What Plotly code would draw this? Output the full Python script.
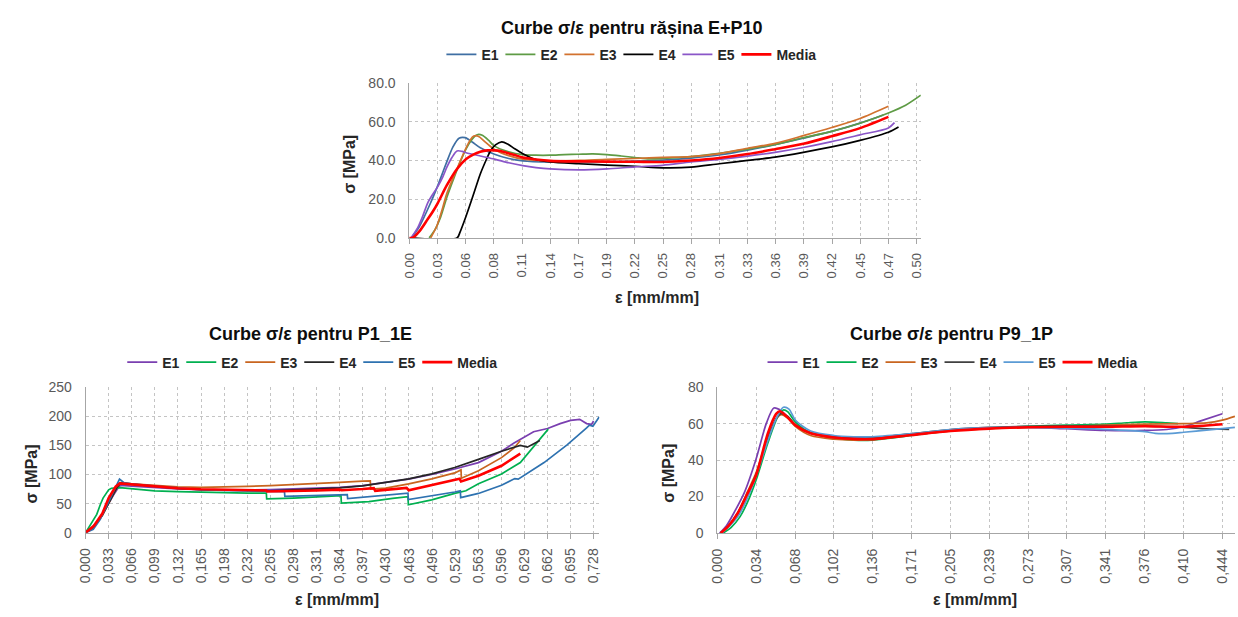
import plotly.graph_objects as go

# ---------------- data: top chart (E+P10) ----------------
top_names = ["E1", "E2", "E3", "E4", "E5", "Media"]
top_e1_x = [0.002, 0.010, 0.020, 0.028, 0.036, 0.043, 0.049, 0.055, 0.062, 0.070, 0.084, 0.098, 0.112, 0.139, 0.167, 0.195, 0.223, 0.250, 0.278, 0.306, 0.334, 0.361, 0.389, 0.417, 0.445, 0.468]
top_e1_y = [0, 6, 17, 27, 38, 47, 51.5, 51.8, 49.5, 46.5, 43.2, 41, 39.8, 39.2, 39.2, 39.3, 39.6, 40.2, 41.2, 42.8, 45.3, 48.2, 51.5, 55, 59.3, 63.5]
top_e2_x = [0.0195, 0.025, 0.031, 0.037, 0.044, 0.050, 0.056, 0.062, 0.067, 0.072, 0.078, 0.084, 0.098, 0.112, 0.125, 0.139, 0.153, 0.167, 0.181, 0.195, 0.209, 0.223, 0.237, 0.250, 0.278, 0.306, 0.334, 0.361, 0.389, 0.417, 0.445, 0.473, 0.490, 0.505]
top_e2_y = [0, 4, 11, 21, 31, 39, 46, 51, 53.3, 53, 50.5, 47.4, 44.5, 43, 42.7, 42.7, 43, 43.2, 43.4, 43, 42.3, 41.5, 40.8, 41.0, 42.0, 43.7, 45.8, 48.3, 51.7, 55, 59.2, 64.5, 68.5, 73.7]
top_e3_x = [0.021, 0.027, 0.032, 0.037, 0.044, 0.0505, 0.056, 0.060, 0.0635, 0.068, 0.075, 0.084, 0.098, 0.112, 0.139, 0.167, 0.195, 0.223, 0.250, 0.278, 0.306, 0.334, 0.361, 0.389, 0.417, 0.445, 0.473]
top_e3_y = [0, 6, 14, 23, 32, 40, 46.5, 50.5, 52.6, 52.5, 49.5, 45.7, 42.5, 40.7, 39.8, 40, 40.6, 41, 41.6, 42, 43.5, 46.3, 48.8, 52.8, 57, 61.7, 68]
top_e4_x = [0.0, 0.047, 0.050, 0.056, 0.063, 0.070, 0.076, 0.080, 0.085, 0.0912, 0.097, 0.104, 0.112, 0.125, 0.139, 0.167, 0.195, 0.223, 0.250, 0.278, 0.306, 0.334, 0.361, 0.389, 0.417, 0.445, 0.473, 0.483]
top_e4_y = [0, 0, 3, 11.3, 22, 33, 40.5, 44.9, 48, 49.6, 48.5, 46, 43.5, 40.5, 39.2, 38.3, 37.6, 37, 36.2, 36.5, 38.3, 40, 41.7, 44.2, 47, 50.4, 54.6, 57.3]
top_e5_x = [0.0016, 0.008, 0.013, 0.018, 0.023, 0.028, 0.033, 0.037, 0.042, 0.047, 0.052, 0.056, 0.070, 0.084, 0.098, 0.112, 0.125, 0.139, 0.167, 0.195, 0.223, 0.250, 0.278, 0.306, 0.334, 0.361, 0.389, 0.417, 0.445, 0.473, 0.479]
top_e5_y = [0, 5, 11, 18, 22.5, 26.5, 31.5, 36.5, 41.5, 44.9, 44.7, 44, 42.3, 40.7, 38.8, 37.3, 36.3, 35.6, 35.1, 35.6, 36.7, 37.5, 39.2, 40.5, 42.2, 44.2, 46.7, 49.7, 53.2, 56.8, 59.5]
top_med_x = [0.0, 0.003, 0.010, 0.018, 0.023, 0.028, 0.037, 0.047, 0.056, 0.063, 0.070, 0.077, 0.084, 0.090, 0.096, 0.104, 0.112, 0.125, 0.139, 0.167, 0.195, 0.223, 0.250, 0.278, 0.306, 0.334, 0.361, 0.389, 0.417, 0.445, 0.473]
top_med_y = [0, 0, 3.5, 9.6, 13.5, 18, 27.2, 35.6, 40.7, 43, 44.5, 45.2, 45.2, 44.9, 44, 42.8, 41.5, 40.5, 39.8, 39.5, 39.4, 39.3, 39.2, 40, 41.3, 43.3, 45.8, 48.6, 52.5, 56.7, 62.5]
top_xticks = ["0.00", "0.03", "0.06", "0.08", "0.11", "0.14", "0.17", "0.19", "0.22", "0.25", "0.28", "0.31", "0.33", "0.36", "0.39", "0.42", "0.45", "0.47", "0.50"]
top_yticks = ["0.0", "20.0", "40.0", "60.0", "80.0"]

# ---------------- data: bottom-left chart (P1_1E) ----------------
p1_names = ["E1", "E2", "E3", "E4", "E5", "Media"]
p1_e1_x = [0, 0.010, 0.021, 0.030, 0.040, 0.046, 0.050, 0.066, 0.099, 0.132, 0.165, 0.198, 0.232, 0.265, 0.298, 0.331, 0.364, 0.397, 0.430, 0.463, 0.496, 0.529, 0.563, 0.596, 0.614, 0.642, 0.662, 0.680, 0.695, 0.708, 0.718, 0.725, 0.728]
p1_e1_y = [0, 10, 25.7, 45, 64.7, 76, 81.5, 80, 77.5, 75.5, 74, 73.5, 73.5, 74, 75.5, 76.5, 78, 81, 86, 92, 100, 109.4, 120.5, 140, 154, 173.5, 179, 187.5, 193, 194.8, 187.5, 186, 192]
p1_e2_x = [0, 0.008, 0.016, 0.021, 0.025, 0.033, 0.037, 0.049, 0.066, 0.099, 0.132, 0.158, 0.198, 0.232, 0.259, 0.2595, 0.298, 0.331, 0.366, 0.3665, 0.406, 0.440, 0.462, 0.4625, 0.480, 0.496, 0.529, 0.545, 0.563, 0.596, 0.623, 0.642, 0.663]
p1_e2_y = [0, 15, 31.5, 48, 59.5, 73.6, 76.4, 77.5, 75.5, 72, 70.5, 69.7, 68.5, 68, 68, 58, 59.5, 61, 63.5, 51, 53.6, 59, 62, 48, 53, 56.5, 67.5, 72, 84.3, 101, 120.5, 148.4, 178]
p1_e3_x = [0, 0.012, 0.024, 0.035, 0.045, 0.050, 0.066, 0.099, 0.132, 0.165, 0.198, 0.232, 0.265, 0.298, 0.331, 0.364, 0.397, 0.408, 0.4085, 0.430, 0.463, 0.496, 0.529, 0.538, 0.5385, 0.563, 0.596, 0.614, 0.623]
p1_e3_y = [0, 10, 30, 55, 78, 86, 84, 81.5, 79, 78, 78.5, 79.5, 81, 82.5, 84.5, 86.5, 88.5, 89, 75, 76.5, 84, 92.6, 102.7, 108, 93.7, 106.6, 129, 145.6, 158.5]
p1_e4_x = [0, 0.012, 0.024, 0.035, 0.045, 0.050, 0.066, 0.099, 0.132, 0.165, 0.198, 0.232, 0.265, 0.298, 0.331, 0.364, 0.397, 0.430, 0.463, 0.496, 0.529, 0.563, 0.596, 0.623, 0.633, 0.651]
p1_e4_y = [0, 10, 30, 56, 78, 85, 83, 79, 76, 74, 73, 72, 72, 73.5, 75, 77, 80.4, 86, 92.6, 101, 112, 126, 140, 150, 147, 158.5]
p1_e5_x = [0, 0.011, 0.021, 0.033, 0.043, 0.0486, 0.055, 0.066, 0.099, 0.132, 0.165, 0.198, 0.232, 0.265, 0.285, 0.2855, 0.331, 0.375, 0.3755, 0.410, 0.440, 0.462, 0.4625, 0.496, 0.529, 0.537, 0.5375, 0.563, 0.596, 0.615, 0.620, 0.657, 0.690, 0.718, 0.722, 0.727, 0.736]
p1_e5_y = [0, 6, 23, 54, 79, 92, 86, 84, 80, 76.5, 74, 72.5, 71.5, 71, 70.5, 62.4, 64, 65.5, 58.5, 62, 66, 68, 57, 63, 70, 72, 60.3, 67.5, 81.5, 93, 92, 120.5, 151, 180, 184.7, 183, 198.7]
p1_med_x = [0, 0.012, 0.024, 0.033, 0.043, 0.049, 0.066, 0.099, 0.132, 0.165, 0.198, 0.232, 0.259, 0.260, 0.298, 0.331, 0.364, 0.367, 0.397, 0.413, 0.415, 0.440, 0.460, 0.463, 0.496, 0.529, 0.536, 0.538, 0.563, 0.596, 0.623]
p1_med_y = [0, 12, 33, 59.5, 79, 84.8, 83, 79.5, 76.5, 74.7, 73.5, 73, 72.5, 70.8, 71.5, 72.5, 74, 73, 75, 76.5, 72, 75, 77, 73, 81.5, 90, 92.6, 88, 98, 115, 136]
p1_xticks = ["0,000", "0,033", "0,066", "0,099", "0,132", "0,165", "0,198", "0,232", "0,265", "0,298", "0,331", "0,364", "0,397", "0,430", "0,463", "0,496", "0,529", "0,563", "0,596", "0,629", "0,662", "0,695", "0,728"]
p1_yticks = ["0", "50", "100", "150", "200", "250"]

# ---------------- data: bottom-right chart (P9_1P) ----------------
p9_names = ["E1", "E2", "E3", "E4", "E5", "Media"]
p9_e1_x = [0.002, 0.008, 0.0154, 0.024, 0.034, 0.043, 0.0497, 0.056, 0.0685, 0.082, 0.1025, 0.120, 0.136, 0.171, 0.205, 0.239, 0.273, 0.307, 0.341, 0.376, 0.395, 0.410, 0.425, 0.444]
p9_e1_y = [0, 4, 12, 22.6, 40.5, 60, 68.6, 67.2, 59.2, 54.7, 53, 52.5, 52.2, 53.8, 56.2, 57.5, 58, 57.2, 56.3, 56.3, 56.8, 58.3, 61.5, 65.4]
p9_e2_x = [0.005, 0.012, 0.020, 0.028, 0.034, 0.0444, 0.053, 0.058, 0.062, 0.0685, 0.082, 0.1025, 0.120, 0.136, 0.171, 0.205, 0.239, 0.273, 0.307, 0.341, 0.360, 0.376, 0.395, 0.405]
p9_e2_y = [0, 3, 9, 19, 28.9, 49.4, 63.6, 67.5, 66.5, 61, 55, 52, 51, 51, 53.5, 56.3, 57.5, 58.5, 59.2, 59.7, 60.5, 61, 60.4, 60]
p9_e3_x = [0.003, 0.010, 0.018, 0.026, 0.034, 0.044, 0.052, 0.056, 0.062, 0.0685, 0.082, 0.1025, 0.120, 0.136, 0.171, 0.190, 0.205, 0.239, 0.273, 0.307, 0.341, 0.376, 0.410, 0.430, 0.444, 0.455]
p9_e3_y = [0, 4, 11, 22, 33, 52, 63, 65, 63, 58.5, 53.5, 51.5, 51, 51.2, 53.8, 55, 56, 57.2, 58, 58.5, 59.2, 59.7, 60, 60.4, 61.9, 64]
p9_e4_x = [0.003, 0.010, 0.018, 0.026, 0.034, 0.044, 0.052, 0.056, 0.062, 0.0685, 0.082, 0.1025, 0.120, 0.136, 0.171, 0.205, 0.239, 0.273, 0.307, 0.341, 0.376, 0.410, 0.430, 0.450]
p9_e4_y = [0, 4, 11, 21, 32, 51, 63, 65.5, 64, 59.5, 54.8, 52.6, 52, 52.2, 54.5, 56.8, 58, 58.5, 58.8, 58.6, 58.6, 58, 57.2, 56.9]
p9_e5_x = [0.004, 0.011, 0.019, 0.027, 0.034, 0.044, 0.052, 0.058, 0.063, 0.0685, 0.082, 0.1025, 0.120, 0.136, 0.171, 0.205, 0.239, 0.273, 0.307, 0.341, 0.376, 0.385, 0.400, 0.410, 0.430, 0.455]
p9_e5_y = [0, 4, 10, 20, 31, 50, 63, 69, 68, 62, 56, 53.5, 52.8, 52.8, 54.5, 56.8, 57.8, 58, 57.5, 56.9, 55.6, 54.7, 54.7, 55.3, 56.5, 58]
p9_med_x = [0.003, 0.010, 0.018, 0.026, 0.034, 0.0444, 0.0517, 0.055, 0.060, 0.0685, 0.082, 0.1025, 0.123, 0.136, 0.171, 0.205, 0.239, 0.273, 0.307, 0.341, 0.376, 0.410, 0.444]
p9_med_y = [0, 4, 11, 21, 31.5, 54.7, 65.4, 66.8, 64.5, 59.2, 54.7, 52.4, 51.5, 51.5, 53.8, 56, 57.3, 58, 58.3, 58.3, 58.6, 58.3, 59.7]
p9_xticks = ["0,000", "0,034", "0,068", "0,102", "0,136", "0,171", "0,205", "0,239", "0,273", "0,307", "0,341", "0,376", "0,410", "0,444"]
p9_yticks = ["0", "20", "40", "60", "80"]

# ---------------- styling ----------------
FONT = "Liberation Sans, Arial, sans-serif"
W, H = 1238, 617
top_colors = ["#3F6FA3", "#5E9B45", "#D2722F", "#000000", "#8A56C8", "#FF0000"]
p1_colors = ["#7A3FB0", "#00B050", "#C8651F", "#262626", "#2E72B0", "#FF0000"]
p9_colors = ["#7A3FB0", "#00B050", "#C8651F", "#404040", "#5B9BD5", "#FF0000"]

fig = go.Figure()

def add_set(xs, ys, names, colors, xa, ya, leg, shape):
    for x, y, n, c in zip(xs, ys, names, colors):
        is_med = (n == "Media")
        fig.add_trace(go.Scatter(
            x=x, y=y, name=n, mode="lines",
            line=dict(color=c, width=2.6 if is_med else 1.7, shape=shape,
                      smoothing=0.8 if shape == "spline" else None),
            xaxis=xa, yaxis=ya, legend=leg, showlegend=True,
            legendwidth=42 if is_med else 14))

add_set([top_e1_x, top_e2_x, top_e3_x, top_e4_x, top_e5_x, top_med_x],
        [top_e1_y, top_e2_y, top_e3_y, top_e4_y, top_e5_y, top_med_y],
        top_names, top_colors, "x", "y", "legend", "spline")
add_set([p1_e1_x, p1_e2_x, p1_e3_x, p1_e4_x, p1_e5_x, p1_med_x],
        [p1_e1_y, p1_e2_y, p1_e3_y, p1_e4_y, p1_e5_y, p1_med_y],
        p1_names, p1_colors, "x2", "y2", "legend2", "linear")
add_set([p9_e1_x, p9_e2_x, p9_e3_x, p9_e4_x, p9_e5_x, p9_med_x],
        [p9_e1_y, p9_e2_y, p9_e3_y, p9_e4_y, p9_e5_y, p9_med_y],
        p9_names, p9_colors, "x3", "y3", "legend3", "spline")

GRID = "#c4c4c4"
AXL = "#a6a6a6"
TICKC = "#595959"

def xax(domain, rng, step, labels, size, anchor):
    return dict(domain=domain, range=rng, anchor=anchor,
                tickvals=[i * step for i in range(len(labels))], ticktext=labels,
                tickangle=-90, tickfont=dict(family=FONT, size=size, color=TICKC),
                showgrid=True, gridcolor=GRID, griddash="dot", gridwidth=1,
                showline=True, linecolor=AXL, linewidth=1,
                ticks="outside", ticklen=5, tickcolor=AXL,
                zeroline=False, ticklabelstandoff=4, fixedrange=True)

def yax(domain, rng, step, labels, size, anchor):
    return dict(domain=domain, range=rng, anchor=anchor,
                tickvals=[i * step for i in range(len(labels))], ticktext=labels,
                tickfont=dict(family=FONT, size=size, color=TICKC),
                showgrid=True, gridcolor=GRID, griddash="dot", gridwidth=1,
                showline=True, linecolor=AXL, linewidth=1,
                ticks="", zeroline=False, ticklabelstandoff=10, fixedrange=True)

def px_x(p):
    return p / W

def px_y(p):
    return 1 - p / H

fig.update_layout(
    width=W, height=H, margin=dict(l=0, r=0, t=0, b=0),
    paper_bgcolor="white", plot_bgcolor="white",
    font=dict(family=FONT, color="#262626"),
    xaxis=xax([px_x(405), px_x(921)], [0, 0.505], 0.02783, top_xticks, 13, "y"),
    yaxis=yax([px_y(236), px_y(77)], [0, 80], 20, top_yticks, 14, "x"),
    xaxis2=xax([px_x(78.3), px_x(596.7)], [0, 0.7363], 0.0331, p1_xticks, 14, "y2"),
    yaxis2=yax([px_y(538.7), px_y(389.3)], [0, 250], 50, p1_yticks, 14, "x2"),
    xaxis3=xax([px_x(715.7), 1.0], [0, 0.4551], 0.03415, p9_xticks, 14, "y3"),
    yaxis3=yax([px_y(539), px_y(389.3)], [0, 80], 20, p9_yticks, 14, "x3"),
    showlegend=True,
)

def legend_cfg(xc, yc):
    return dict(orientation="h", x=px_x(xc), xanchor="center", y=px_y(yc), yanchor="middle",
                font=dict(family=FONT, size=14, color="#262626", weight="bold"),
                bgcolor="rgba(0,0,0,0)", itemwidth=30, entrywidthmode="pixels",
                itemclick=False, itemdoubleclick=False)

fig.update_layout(legend=legend_cfg(630, 48), legend2=legend_cfg(308, 364), legend3=legend_cfg(954, 364))

annos = [
    dict(text="Curbe σ/ε pentru rășina E+P10", x=px_x(629), y=px_y(21), size=18, angle=0),
    dict(text="Curbe σ/ε pentru P1_1E", x=px_x(305), y=px_y(335), size=18, angle=0),
    dict(text="Curbe σ/ε pentru P9_1P", x=px_x(952), y=px_y(335), size=18, angle=0),
    dict(text="ε [mm/mm]", x=px_x(655), y=px_y(297), size=16, angle=0),
    dict(text="ε [mm/mm]", x=px_x(332), y=px_y(607), size=16, angle=0),
    dict(text="ε [mm/mm]", x=px_x(976), y=px_y(607), size=16, angle=0),
    dict(text="σ [MPa]", x=px_x(345), y=px_y(160), size=16, angle=-90),
    dict(text="σ [MPa]", x=px_x(24), y=px_y(478), size=16, angle=-90),
    dict(text="σ [MPa]", x=px_x(667), y=px_y(478), size=16, angle=-90),
]
for a in annos:
    fig.add_annotation(text=a["text"], x=a["x"], y=a["y"], xref="paper", yref="paper",
                       xanchor="center", yanchor="middle", showarrow=False, textangle=a["angle"],
                       font=dict(family=FONT, size=a["size"],
                                 color="#0d0d0d" if a["size"] == 18 else "#262626", weight="bold"))

fig.write_html("out.html")
